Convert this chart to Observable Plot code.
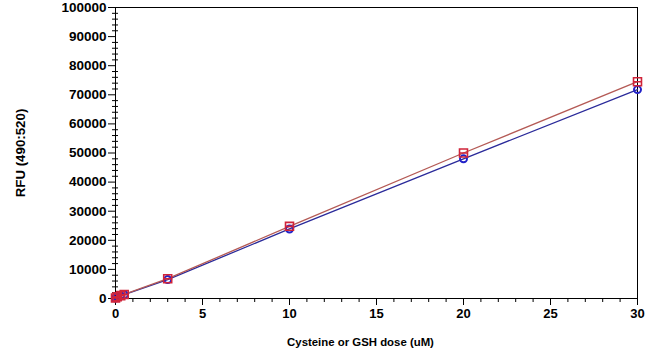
<!DOCTYPE html>
<html><head><meta charset="utf-8">
<script src="https://cdn.jsdelivr.net/npm/d3@7"></script>
<script src="https://cdn.jsdelivr.net/npm/@observablehq/plot@0.6"></script>
<style>
body{margin:0;background:#fff;}
svg{font-family:"Liberation Sans",Arial,sans-serif;}
</style></head>
<body><div id="chart"></div>
<script>
const doses = [0, 0.1, 0.3, 0.5, 3, 10, 20, 30];
const gshRFU = [200, 600, 1000, 1400, 6800, 24800, 50000, 74500];
const cysRFU = [150, 500, 900, 1300, 6500, 23900, 48000, 71800];
const xMajor = [0, 5, 10, 15, 20, 25, 30];
const xMinor = d3.range(0, 31, 1).filter(v => v % 5 !== 0);
const yMajor = [0, 10000, 20000, 30000, 40000, 50000, 60000, 70000, 80000, 90000, 100000];
const yMinor = d3.range(0, 100001, 2000).filter(v => v % 10000 !== 0);
const xTitle = "Cysteine or GSH dose (uM)";
const yTitle = "RFU (490:520)";

const gsh = doses.map((d, i) => ({x: d, y: gshRFU[i]}));
const cys = doses.map((d, i) => ({x: d, y: cysRFU[i]}));

const squareBar = {
  draw(ctx, size) {
    const s = Math.sqrt(size) / 2;
    ctx.moveTo(-s, -s); ctx.lineTo(s, -s); ctx.lineTo(s, s); ctx.lineTo(-s, s); ctx.closePath();
    ctx.moveTo(-s, 0); ctx.lineTo(s, 0);
  }
};

const chart = Plot.plot({
  width: 650, height: 360,
  marginLeft: 115, marginRight: 13, marginTop: 7, marginBottom: 62,
  style: {fontFamily: "Liberation Sans, Arial, sans-serif", fontSize: "12px", fontWeight: "bold", color: "#000"},
  x: {domain: [0, 30]},
  y: {domain: [0, 100000]},
  marks: [
    Plot.frame({stroke: "#000", strokeWidth: 1}),
    Plot.axisX(xMajor, {tickSize: 7, tickPadding: 3, fontSize: 13, tickFormat: d => String(d), label: null}),
    Plot.text([xTitle], {frameAnchor: "bottom", dx: -16, dy: 47, text: d => d, fontSize: 11.4, fontWeight: "bold", fill: "#000"}),
    Plot.axisX(xMinor, {tickSize: 4, text: null, label: null}),
    Plot.axisY(yMajor, {tickSize: 7, tickPadding: 2, fontSize: 13.5, tickFormat: d => String(d), label: null}),
    Plot.axisY({ticks: [], label: yTitle, labelAnchor: "center", labelOffset: 100, labelArrow: "none", fontSize: 13.3}),
    Plot.axisY(yMinor, {tickSize: 6, dx: 3, text: null, label: null}),
    Plot.line(cys, {x: "x", y: "y", stroke: "#2a2a9a", strokeWidth: 1.3}),
    Plot.line(gsh, {x: "x", y: "y", stroke: "#b45a55", strokeWidth: 1.3}),
    Plot.dot(cys, {x: "x", y: "y", symbol: "circle", r: 3.5, stroke: "#2222c8", strokeWidth: 2, fill: "none"}),
    Plot.dot(gsh, {x: "x", y: "y", symbol: squareBar, r: 4.5, stroke: "#d0243a", strokeWidth: 1.6, fill: "none"})
  ]
});
document.getElementById("chart").appendChild(chart);
</script>
</body></html>
